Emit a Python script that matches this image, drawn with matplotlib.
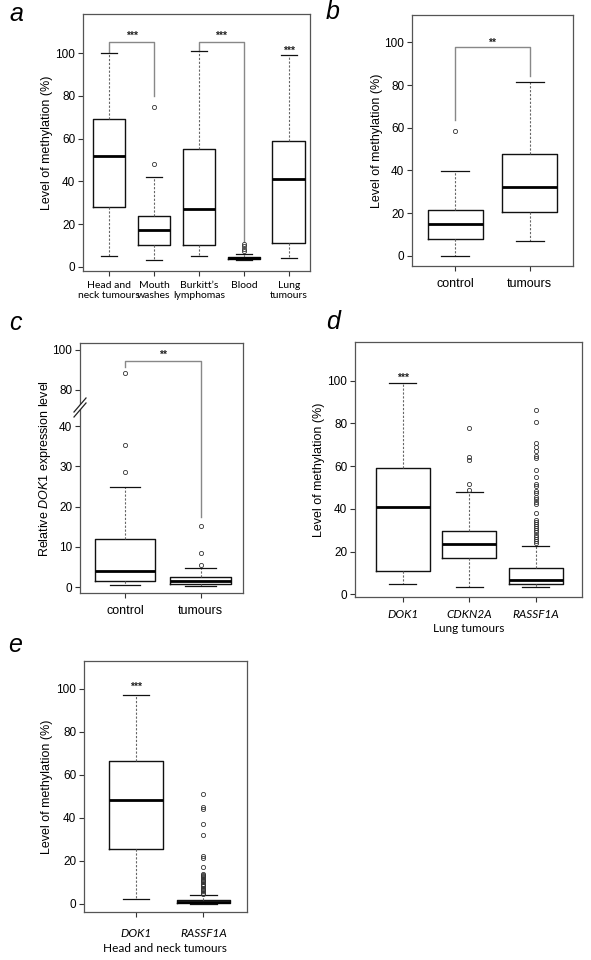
import numpy as np
import matplotlib.pyplot as plt
from matplotlib.scale import FuncScale
from matplotlib.patches import Polygon

plt.rcParams['font.family'] = ['Liberation Sans', 'DejaVu Sans']
plt.rcParams['mathtext.fontset'] = 'custom'
plt.rcParams['mathtext.rm'] = 'Liberation Sans'
plt.rcParams['mathtext.it'] = 'Liberation Sans:italic'

# ---- panel a: methylation by sample type
a_groups = ['Head and\nneck tumours', 'Mouth\nwashes', 'Burkitt\u2019s\nlymphomas', 'Blood', 'Lung\ntumours']
a_whislo = [5, 3, 5, 3.1, 4]
a_q1 = [28, 10, 10, 3.7, 11]
a_med = [52, 17, 27, 4.2, 41]
a_q3 = [69, 24, 55, 4.6, 59]
a_whishi = [100, 42, 101, 6, 99]
a_fliers = [[], [48, 75], [], [7.5, 8.5, 9.5, 10.5], []]

# ---- panel b: control vs tumours methylation
b_groups = ['control', 'tumours']
b_whislo = [0, 7]
b_q1 = [8, 20.5]
b_med = [15, 32]
b_q3 = [21.5, 47.5]
b_whishi = [39.5, 81.5]
b_fliers = [[58.5], []]

# ---- panel c: DOK1 expression (broken axis)
c_groups = ['control', 'tumours']
c_whislo = [0.6, 0.2]
c_q1 = [1.5, 0.8]
c_med = [4, 1.5]
c_q3 = [12.1, 2.5]
c_whishi = [25, 4.8]
c_fliers = [[28.5, 35.2, 88.5], [5.5, 8.5, 15.3]]
c_ticks = [0, 10, 20, 30, 40, 80, 100]

# ---- panel d: lung tumours, three genes
d_groups = ['DOK1', 'CDKN2A', 'RASSF1A']
d_whislo = [5, 3.5, 3.3]
d_q1 = [11, 17, 5]
d_med = [41, 23.5, 6.7]
d_q3 = [59, 29.5, 12.3]
d_whishi = [99, 48, 22.6]
d_fliers = [[], [49, 51.5, 63, 64.5, 78],
            [24, 25, 26, 27, 28, 29, 30, 31, 32, 33, 34, 35, 38, 42.3, 43.4, 44.7,
             45.8, 47.3, 48.4, 50.8, 51.7, 55.1, 58, 64, 64.8, 66.9, 69.2, 70.8,
             80.6, 86.3]]

# ---- panel e: head and neck tumours, two genes
e_groups = ['DOK1', 'RASSF1A']
e_whislo = [2.5, 0]
e_q1 = [25.5, 0.3]
e_med = [48.5, 0.8]
e_q3 = [66.5, 1.9]
e_whishi = [97, 4]
e_fliers = [[], [4.6, 5.2, 5.8, 6.4, 7, 7.6, 8.2, 8.8, 9.4, 10, 10.6, 11.2, 11.8,
                 12.4, 13, 13.6, 14, 17.1, 21.2, 22.3, 32, 37.1, 44.3, 45.3, 51.2]]

W, H = 591, 960
fig = plt.figure(figsize=(W / 100, H / 100), dpi=100)


def axes_px(left, top, right, bottom):
    return fig.add_axes([left / W, 1 - bottom / H, (right - left) / W, (bottom - top) / H])


def style(ax):
    for sp in ax.spines.values():
        sp.set_color('#555555')
        sp.set_linewidth(0.9)
    ax.tick_params(direction='out', length=3.5, width=0.8, color='#333333',
                   labelsize=8.5, pad=2)


def boxes(ax, whislo, q1, med, q3, whishi, fliers, width):
    stats = []
    for i in range(len(med)):
        stats.append(dict(whislo=whislo[i], q1=q1[i], med=med[i], q3=q3[i],
                          whishi=whishi[i], fliers=fliers[i]))
    pos = np.arange(1, len(med) + 1)
    ax.bxp(stats, positions=pos, widths=width, capwidths=width * 0.5,
           manage_ticks=False, patch_artist=False,
           boxprops=dict(color='#111111', linewidth=1.0),
           whiskerprops=dict(color='#666666', linewidth=0.8, linestyle=(0, (2, 1.5))),
           capprops=dict(color='#111111', linewidth=0.9),
           medianprops=dict(color='#000000', linewidth=2.0),
           flierprops=dict(marker='o', markersize=3, markerfacecolor='none',
                           markeredgecolor='#333333', markeredgewidth=0.6))
    ax.set_xticks(pos)


def stars(ax, x, y, s):
    ax.text(x, y, s, ha='center', va='center', fontsize=7.5,
            fontweight='bold', color='#222222')


def bracket(ax, x1, x2, y, y1, y2, s, sy):
    ax.plot([x1, x1, x2, x2], [y1, y, y, y2], color='#888888', lw=1.0, zorder=1)
    stars(ax, (x1 + x2) / 2, sy, s)


def ylab(ax, text, xpos):
    ax.set_ylabel(text, fontsize=9)
    ax.yaxis.set_label_coords(xpos, 0.5)


# panel a
ax = axes_px(83, 14, 310, 271)
style(ax)
boxes(ax, a_whislo, a_q1, a_med, a_q3, a_whishi, a_fliers, 0.73)
ax.set_xlim(0.42, 5.47)
ax.set_ylim(-2, 118.4)
ax.set_yticks([0, 20, 40, 60, 80, 100])
ax.set_xticklabels(a_groups, family='Lato', fontsize=7.5, linespacing=1.15)
ax.tick_params(axis='x', pad=3.5)
ylab(ax, 'Level of methylation (%)', -0.132)
bracket(ax, 1, 2, 105.4, 100.5, 80, '***', 108.4)
bracket(ax, 3, 4, 105.4, 101.5, 12, '***', 108.4)
stars(ax, 5, 101.3, '***')

# panel b
ax = axes_px(412, 15, 573, 266)
style(ax)
boxes(ax, b_whislo, b_q1, b_med, b_q3, b_whishi, b_fliers, 0.74)
ax.set_xlim(0.42, 2.58)
ax.set_ylim(-4.8, 112.8)
ax.set_yticks([0, 20, 40, 60, 80, 100])
ax.set_xticklabels(b_groups, fontsize=9)
ax.tick_params(axis='x', pad=5)
ylab(ax, 'Level of methylation (%)', -0.180)
bracket(ax, 1, 2, 97.7, 63.5, 84, '**', 99.9)


# panel c, broken y axis between 40 and 80
def c_fwd(y):
    y = np.asarray(y, dtype=float)
    return np.where(y <= 40, y, np.where(y >= 80, 49 + (y - 80) / 2, 40 + (y - 40) * 9 / 40))


def c_inv(t):
    t = np.asarray(t, dtype=float)
    return np.where(t <= 40, t, np.where(t >= 49, 80 + (t - 49) * 2, 40 + (t - 40) * 40 / 9))


ax = axes_px(80, 342.7, 242.7, 593.3)
style(ax)
ax.set_yscale(FuncScale(ax, (c_fwd, c_inv)))
boxes(ax, c_whislo, c_q1, c_med, c_q3, c_whishi, c_fliers, 0.8)
ax.set_xlim(0.4, 2.56)
ax.set_ylim(-1.5, 103.4)
ax.set_yticks(c_ticks)
ax.set_yticklabels([str(t) for t in c_ticks])
ax.minorticks_off()
ax.set_xticklabels(c_groups, fontsize=9)
ax.tick_params(axis='x', pad=5)
ylab(ax, r'Relative $\mathit{DOK1}$ expression level', -0.166)
bracket(ax, 1, 2, 94.5, 91.5, 17.5, '**', 97.4)


# break marks on the left spine of panel c (figure pixels)
def fpx(x, y):
    return (x / W, 1 - y / H)


gap = Polygon([fpx(74, 412), fpx(86, 398), fpx(86, 403), fpx(74, 417)], closed=True,
              transform=fig.transFigure, facecolor='white', edgecolor='none', zorder=5)
fig.add_artist(gap)
for dy in (0, 5):
    x0, y0 = fpx(74, 412 + dy)
    x1, y1 = fpx(86, 398 + dy)
    fig.add_artist(plt.Line2D([x0, x1], [y0, y1], color='#222222', lw=0.9, zorder=6))

# panel d
ax = axes_px(355, 342, 581.7, 597)
style(ax)
boxes(ax, d_whislo, d_q1, d_med, d_q3, d_whishi, d_fliers, 0.81)
ax.set_xlim(0.28, 3.69)
ax.set_ylim(-1.2, 118.1)
ax.set_yticks([0, 20, 40, 60, 80, 100])
ax.set_xticklabels(d_groups, family='Lato', style='italic', fontsize=8.5)
ax.tick_params(axis='x', pad=5)
ax.set_xlabel('Lung tumours', family='Lato', fontsize=8.5, labelpad=2)
ylab(ax, 'Level of methylation (%)', -0.1345)
stars(ax, 1, 101.3, '***')

# panel e
ax = axes_px(84, 661, 246.7, 912.3)
style(ax)
boxes(ax, e_whislo, e_q1, e_med, e_q3, e_whishi, e_fliers, 0.79)
ax.set_xlim(0.23, 2.64)
ax.set_ylim(-3.9, 113)
ax.set_yticks([0, 20, 40, 60, 80, 100])
ax.set_xticklabels(e_groups, family='Lato', style='italic', fontsize=8.5)
ax.tick_params(axis='x', pad=7.5)
ax.set_xlabel('Head and neck tumours', family='Lato', fontsize=8.5, labelpad=3.5)
ylab(ax, 'Level of methylation (%)', -0.1905)
stars(ax, 1, 101.1, '***')

# panel letters
for letter, x, y in [('a', 16, 14), ('b', 333, 12), ('c', 15, 323), ('d', 333, 322), ('e', 15, 645)]:
    fig.text(x / W, 1 - y / H, letter, fontsize=18, style='italic', ha='center', va='center')

fig.savefig('out.png', dpi=100)
